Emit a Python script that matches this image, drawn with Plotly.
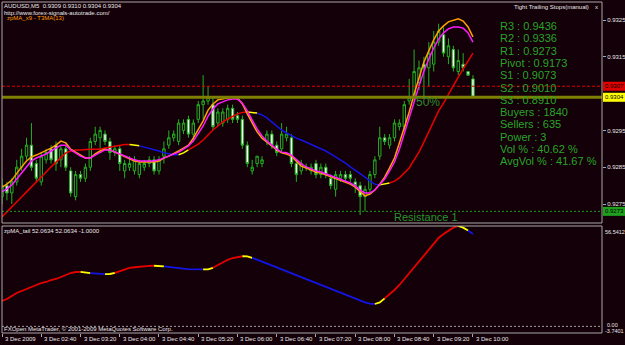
import plotly.graph_objects as go

# ---------------- data (AUDUSD M5, 3 Dec 2009, 02:00 .. 10:00) ----------------
opens = [0.9277, 0.9280, 0.9278, 0.9281, 0.9285, 0.9288, 0.9291, 0.9286, 0.9281, 0.9287,
         0.9290, 0.9291, 0.9287, 0.9290, 0.9284, 0.9277, 0.9283, 0.9282, 0.9285, 0.9292,
         0.9293, 0.9294, 0.9292, 0.9289, 0.9290, 0.9284, 0.9285, 0.9284, 0.9283, 0.9285,
         0.9286, 0.9287, 0.9284, 0.9288, 0.9291, 0.9293, 0.9292, 0.9295, 0.9298, 0.9294,
         0.9298, 0.9302, 0.9303, 0.9302, 0.9297, 0.9297, 0.9298, 0.9301, 0.9299, 0.9298,
         0.9291, 0.9284, 0.9286, 0.9286, 0.9292, 0.9294, 0.9291, 0.9290, 0.9293, 0.9293,
         0.9286, 0.9284, 0.9285, 0.9284, 0.9286, 0.9283, 0.9285, 0.9282, 0.9279, 0.9282,
         0.9283, 0.9283, 0.9281, 0.9280, 0.9277, 0.9279, 0.9283, 0.9288, 0.9293, 0.9291,
         0.9293, 0.9296, 0.9296, 0.9303, 0.9304, 0.9308, 0.9313, 0.9312, 0.9313, 0.9319,
         0.9321, 0.9315, 0.9317, 0.9311, 0.9313, 0.9311, 0.9309]
highs = [0.9282, 0.9281, 0.9282, 0.9287, 0.9290, 0.9293, 0.9297, 0.9287, 0.9289, 0.9290,
         0.9291, 0.9292, 0.9291, 0.9291, 0.9285, 0.9284, 0.9284, 0.9286, 0.9293, 0.9296,
         0.9296, 0.9295, 0.9293, 0.9291, 0.9291, 0.9287, 0.9288, 0.9288, 0.9287, 0.9287,
         0.9288, 0.9288, 0.9288, 0.9292, 0.9295, 0.9295, 0.9298, 0.9298, 0.9299, 0.9298,
         0.9303, 0.9310, 0.9307, 0.9304, 0.9301, 0.9301, 0.9302, 0.9302, 0.9300, 0.9299,
         0.9292, 0.9287, 0.9288, 0.9288, 0.9295, 0.9295, 0.9292, 0.9297, 0.9296, 0.9294,
         0.9287, 0.9287, 0.9286, 0.9286, 0.9287, 0.9286, 0.9286, 0.9283, 0.9284, 0.9284,
         0.9284, 0.9284, 0.9282, 0.9281, 0.9280, 0.9284, 0.9288, 0.9296, 0.9294, 0.9294,
         0.9298, 0.9298, 0.9303, 0.9309, 0.9317, 0.9314, 0.9315, 0.9319, 0.9322, 0.9324,
         0.9323, 0.9320, 0.9318, 0.9317, 0.9316, 0.9311, 0.9310]
lows = [0.9275, 0.9276, 0.9275, 0.9280, 0.9284, 0.9287, 0.9284, 0.9281, 0.9280, 0.9286,
        0.9286, 0.9284, 0.9285, 0.9284, 0.9277, 0.9276, 0.9281, 0.9281, 0.9284, 0.9291,
        0.9290, 0.9291, 0.9287, 0.9288, 0.9284, 0.9282, 0.9284, 0.9283, 0.9282, 0.9284,
        0.9285, 0.9283, 0.9283, 0.9286, 0.9290, 0.9292, 0.9291, 0.9294, 0.9293, 0.9292,
        0.9297, 0.9298, 0.9302, 0.9295, 0.9296, 0.9296, 0.9297, 0.9297, 0.9297, 0.9290,
        0.9285, 0.9283, 0.9285, 0.9285, 0.9291, 0.9290, 0.9288, 0.9289, 0.9292, 0.9285,
        0.9281, 0.9283, 0.9284, 0.9283, 0.9282, 0.9282, 0.9282, 0.9279, 0.9277, 0.9281,
        0.9281, 0.9281, 0.9278, 0.9272, 0.9273, 0.9278, 0.9282, 0.9287, 0.9291, 0.9290,
        0.9292, 0.9295, 0.9295, 0.9302, 0.9303, 0.9306, 0.9304, 0.9307, 0.9311, 0.9318,
        0.9315, 0.9313, 0.9311, 0.9310, 0.9311, 0.9310, 0.9304]
closes = [0.9280, 0.9278, 0.9281, 0.9285, 0.9288, 0.9291, 0.9285, 0.9282, 0.9288, 0.9289,
          0.9287, 0.9286, 0.9290, 0.9285, 0.9278, 0.9283, 0.9282, 0.9285, 0.9292, 0.9294,
          0.9295, 0.9292, 0.9289, 0.9290, 0.9286, 0.9286, 0.9286, 0.9287, 0.9286, 0.9286,
          0.9287, 0.9284, 0.9287, 0.9290, 0.9293, 0.9294, 0.9297, 0.9297, 0.9294, 0.9297,
          0.9302, 0.9303, 0.9304, 0.9296, 0.9300, 0.9300, 0.9301, 0.9298, 0.9298, 0.9291,
          0.9286, 0.9285, 0.9288, 0.9287, 0.9294, 0.9291, 0.9289, 0.9294, 0.9294, 0.9286,
          0.9283, 0.9286, 0.9285, 0.9285, 0.9283, 0.9285, 0.9283, 0.9280, 0.9283, 0.9283,
          0.9282, 0.9282, 0.9280, 0.9277, 0.9279, 0.9283, 0.9287, 0.9293, 0.9292, 0.9293,
          0.9297, 0.9297, 0.9302, 0.9304, 0.9311, 0.9312, 0.9312, 0.9316, 0.9319, 0.9322,
          0.9316, 0.9318, 0.9312, 0.9314, 0.9312, 0.9310, 0.9304]

# zpMA_x9 fast average (orange) and T3MA(13) (magenta)
zpma_fast = [0.92796, 0.92804, 0.92815, 0.92834, 0.92851, 0.92867, 0.92878, 0.92883, 0.92889, 0.92894,
             0.92902, 0.92910, 0.92921, 0.92916, 0.92899, 0.92891, 0.92883, 0.92875, 0.92875, 0.92886,
             0.92894, 0.92899, 0.92897, 0.92891, 0.92886, 0.92878, 0.92872, 0.92867, 0.92864, 0.92864,
             0.92864, 0.92864, 0.92867, 0.92875, 0.92880, 0.92886, 0.92894, 0.92902, 0.92910, 0.92929,
             0.92951, 0.92976, 0.93005, 0.93022, 0.93033, 0.93035, 0.93038, 0.93041, 0.93038, 0.93022,
             0.92995, 0.92970, 0.92946, 0.92929, 0.92918, 0.92908, 0.92897, 0.92889, 0.92886, 0.92880,
             0.92867, 0.92853, 0.92848, 0.92842, 0.92837, 0.92834, 0.92829, 0.92826, 0.92821, 0.92815,
             0.92810, 0.92804, 0.92796, 0.92783, 0.92772, 0.92777, 0.92788, 0.92804, 0.92823, 0.92848,
             0.92875, 0.92916, 0.92957, 0.93000, 0.93049, 0.93092, 0.93136, 0.93166, 0.93196, 0.93220,
             0.93234, 0.93245, 0.93250, 0.93253, 0.93247, 0.93231, 0.93204]
t3ma = [0.92783, 0.92791, 0.92802, 0.92818, 0.92837, 0.92853, 0.92867, 0.92875, 0.92880, 0.92886,
        0.92894, 0.92902, 0.92910, 0.92910, 0.92897, 0.92889, 0.92880, 0.92875, 0.92875, 0.92883,
        0.92891, 0.92897, 0.92897, 0.92891, 0.92886, 0.92880, 0.92875, 0.92870, 0.92867, 0.92867,
        0.92867, 0.92867, 0.92870, 0.92875, 0.92880, 0.92886, 0.92891, 0.92899, 0.92908, 0.92921,
        0.92940, 0.92962, 0.92989, 0.93008, 0.93022, 0.93027, 0.93033, 0.93035, 0.93035, 0.93024,
        0.93003, 0.92978, 0.92954, 0.92935, 0.92921, 0.92910, 0.92899, 0.92891, 0.92889, 0.92883,
        0.92872, 0.92859, 0.92851, 0.92845, 0.92840, 0.92837, 0.92832, 0.92829, 0.92823, 0.92818,
        0.92812, 0.92807, 0.92799, 0.92788, 0.92780, 0.92780, 0.92788, 0.92802, 0.92818, 0.92840,
        0.92864, 0.92899, 0.92940, 0.92981, 0.93027, 0.93071, 0.93111, 0.93144, 0.93174, 0.93198,
        0.93215, 0.93226, 0.93231, 0.93231, 0.93228, 0.93215, 0.93190]
# slow signal average (red rising / blue falling / yellow turn)
signal_ma = [0.92715, 0.92728, 0.92742, 0.92755, 0.92769, 0.92783, 0.92796, 0.92810, 0.92823, 0.92837,
             0.92851, 0.92864, 0.92878, 0.92889, 0.92894, 0.92897, 0.92897, 0.92899, 0.92899, 0.92899,
             0.92899, 0.92902, 0.92905, 0.92908, 0.92910, 0.92912, 0.92912, 0.92910, 0.92908, 0.92905,
             0.92902, 0.92899, 0.92894, 0.92889, 0.92886, 0.92884, 0.92884, 0.92889, 0.92897, 0.92905,
             0.92913, 0.92924, 0.92938, 0.92951, 0.92962, 0.92973, 0.92981, 0.92989, 0.92995, 0.92999,
             0.93000, 0.92999, 0.92997, 0.92992, 0.92984, 0.92973, 0.92962, 0.92951, 0.92943, 0.92935,
             0.92929, 0.92924, 0.92918, 0.92913, 0.92908, 0.92902, 0.92894, 0.92886, 0.92878, 0.92870,
             0.92861, 0.92851, 0.92842, 0.92832, 0.92823, 0.92812, 0.92804, 0.92802, 0.92804, 0.92807,
             0.92812, 0.92821, 0.92834, 0.92848, 0.92870, 0.92891, 0.92918, 0.92948, 0.92978, 0.93003,
             0.93024, 0.93049, 0.93071, 0.93095, 0.93117, 0.93139, 0.93160]
# zpMA_tail oscillator (lower window)
zpma_tail = [14.29, 15.41, 17.10, 18.79, 19.92, 21.05, 22.17, 23.30, 24.43, 24.99,
             26.12, 26.68, 27.81, 28.93, 30.06, 30.62, 30.70, 30.40, 30.00, 29.70,
             29.50, 29.40, 29.50, 30.10, 31.00, 32.00, 32.90, 33.30, 33.70, 33.95,
             34.10, 34.15, 34.10, 33.80, 33.40, 33.00, 32.70, 32.50, 32.30, 32.20,
             32.10, 32.05, 32.10, 33.00, 34.50, 36.00, 37.50, 38.50, 39.20, 39.50,
             39.40, 38.60, 37.60, 36.50, 35.40, 34.30, 33.20, 32.10, 31.00, 29.90,
             28.80, 27.70, 26.60, 25.50, 24.40, 23.30, 22.20, 21.10, 20.00, 18.90,
             17.80, 16.70, 15.60, 14.50, 13.50, 12.80, 12.60, 13.50, 15.80, 18.10,
             20.50, 23.30, 26.70, 30.10, 33.40, 36.80, 40.20, 43.60, 47.00, 49.80,
             52.00, 54.00, 55.60, 56.5412, 55.60, 54.00, 52.0634]
tail_min, tail_max = -3.7401, 56.5412

time_tick_bars = [0, 8, 16, 24, 32, 40, 48, 56, 64, 72, 80, 88, 96]
time_tick_labels = ["3 Dec 2009", "3 Dec 02:40", "3 Dec 03:20", "3 Dec 04:00", "3 Dec 04:40",
                    "3 Dec 05:20", "3 Dec 06:00", "3 Dec 06:40", "3 Dec 07:20", "3 Dec 08:00",
                    "3 Dec 08:40", "3 Dec 09:20", "3 Dec 10:00"]
price_ticks = [0.9275, 0.9285, 0.9295, 0.9305, 0.9315, 0.9325]

pivot_names = ["R3", "R2", "R1", "Pivot", "S1", "S2", "S3"]
pivot_values = [0.9436, 0.9336, 0.9273, 0.9173, 0.9073, 0.9010, 0.8910]
stat_names = ["Buyers", "Sellers", "Power", "Vol %", "AvgVol %"]
stat_values = ["1840", "635", "3", "40.62 %", "41.67 %"]

trail_stop = 0.9307
resistance_1 = 0.9273
bid = closes[-1]

# ---------------- style / layout helpers ----------------
BG = "#140008"
GREEN = "#22b022"
FONT = "Liberation Sans"
W, H = 625, 345
L, R, T, B = 2, 23, 2, 12
PW, PH = W - L - R, H - T - B
main_dom = [(PH + T - 223) / PH, 1.0]
low_dom = [0.0, (PH + T - 226) / PH]
y_main_range = [0.926984, 0.932989]
x_range = [0, 122.3]
price_per_px = (y_main_range[1] - y_main_range[0]) / ((main_dom[1] - main_dom[0]) * PH)


def px(xp):
    return (xp - L) / PW


def py(yp):
    return (PH + T - yp) / PH


def colored_runs(vals, up, down, turn):
    dirs, prev = [], 1
    for k in range(len(vals) - 1):
        d = vals[k + 1] - vals[k]
        dk = 1 if d > 0 else (-1 if d < 0 else prev)
        dirs.append(dk)
        prev = dk
    cols = []
    for k, dk in enumerate(dirs):
        changed = (k > 0 and dirs[k - 1] != dk) or (k > 1 and dirs[k - 2] != dirs[k - 1])
        cols.append(turn if changed else (up if dk > 0 else down))
    runs, start = [], 0
    for k in range(1, len(cols) + 1):
        if k == len(cols) or cols[k] != cols[start]:
            runs.append((start, k, cols[start]))
            start = k
    return runs


bars = list(range(len(closes)))
fig = go.Figure()

fig.add_trace(go.Candlestick(
    x=bars, open=opens, high=highs, low=lows, close=closes,
    increasing=dict(line=dict(color=GREEN, width=1), fillcolor=BG),
    decreasing=dict(line=dict(color=GREEN, width=1), fillcolor="#ffffff"),
    whiskerwidth=0, hoverinfo="skip", xaxis="x", yaxis="y", showlegend=False))

for s, e, c in colored_runs(signal_ma, "#e80000", "#1414e6", "#ffff00"):
    fig.add_trace(go.Scatter(x=bars[s:e + 1], y=signal_ma[s:e + 1], mode="lines",
                             line=dict(color=c, width=1.5), xaxis="x", yaxis="y",
                             showlegend=False, hoverinfo="skip"))

fig.add_trace(go.Scatter(x=bars, y=zpma_fast, mode="lines", line=dict(color="#ffa000", width=1.5),
                         xaxis="x", yaxis="y", showlegend=False, hoverinfo="skip"))
fig.add_trace(go.Scatter(x=bars, y=t3ma, mode="lines", line=dict(color="#ff1aff", width=1.5),
                         xaxis="x", yaxis="y", showlegend=False, hoverinfo="skip"))

for s, e, c in colored_runs(zpma_tail, "#e80000", "#1414e6", "#ffff00"):
    fig.add_trace(go.Scatter(x=bars[s:e + 1], y=zpma_tail[s:e + 1], mode="lines",
                             line=dict(color=c, width=1.8), xaxis="x", yaxis="y2",
                             showlegend=False, hoverinfo="skip"))

shapes = [
    dict(type="line", xref="paper", yref="y", x0=0, x1=1, y0=trail_stop, y1=trail_stop,
         line=dict(color="#e00000", width=1, dash="3px,2px")),
    dict(type="line", xref="paper", yref="y", x0=0, x1=1, y0=bid, y1=bid,
         line=dict(color="#7d8000", width=3)),
    dict(type="line", xref="paper", yref="y", x0=0, x1=1, y0=resistance_1, y1=resistance_1,
         line=dict(color="#1e9a1e", width=1, dash="2px,2px")),
    dict(type="line", xref="paper", yref="y2", x0=0, x1=1, y0=0, y1=0,
         line=dict(color="#a0a0a0", width=1, dash="2px,2px")),
    dict(type="rect", xref="paper", yref="paper", x0=0, x1=1, y0=main_dom[0], y1=main_dom[1],
         line=dict(color="#a8a8a8", width=1)),
    dict(type="rect", xref="paper", yref="paper", x0=0, x1=1, y0=low_dom[0], y1=low_dom[1],
         line=dict(color="#a8a8a8", width=1)),
]

ann = []


def text(x, y, s, size=6, color="#e8e8e8", xanchor="left", yanchor="middle", **kw):
    ann.append(dict(x=x, y=y, xref="paper", yref="paper", text=s, showarrow=False,
                    xanchor=xanchor, yanchor=yanchor, borderpad=0,
                    font=dict(family=FONT, size=size, color=color), **kw))


# top-left info
text(px(3), py(6), f"AUDUSD,M5  {opens[-1]:.4f} {highs[-1]:.4f} {lows[-1]:.4f} {closes[-1]:.4f}")
text(px(3), py(12.5), "http://www.forex-signals-autotrade.com/")
text(px(6), py(18.5), "zpMA_x9 - T3MA(13)", color="#ff9a00")
text(px(590), py(7), "Tight Trailing Stops(manual)", xanchor="right")
text(px(594), py(7), "x")
text(px(3), py(231), f"zpMA_tail {zpma_tail[-1]:.4f} {zpma_tail[-1]:.4f} -1.0000")
text(px(3), py(329), "FXOpen MetaTrader, © 2001-2009 MetaQuotes Software Corp.")

# pivot / stats block
lines = [f"{n} : {v:.4f}" for n, v in zip(pivot_names, pivot_values)] + \
        [f"{n} : {v}" for n, v in zip(stat_names, stat_values)]
for k, s in enumerate(lines):
    text(px(499), py(26 + 12.3 * k), s, size=11, color="#28a428")

text(px(415), py(102), "50%", size=12, color="#2e8a2e")
text(px(393), py(216.5), "Resistance 1", size=11, color="#24962a")

# right-side price boxes (drawn as rectangles + labels)
for val, bg in [(trail_stop, "#e00000"), (bid, "#ffff00"), (resistance_1, "#1ea01e")]:
    shapes.append(dict(type="rect", xref="paper", yref="y", layer="above",
                       x0=1.0 + 1 / PW, x1=1.0 + 23 / PW,
                       y0=val - 4.5 * price_per_px, y1=val + 4.5 * price_per_px,
                       fillcolor=bg, line=dict(width=0)))
    ann.append(dict(x=1.0 + 2 / PW, y=val, xref="paper", yref="y", text=f"{val:.4f}", showarrow=False,
                    xanchor="left", yanchor="middle", borderpad=0,
                    font=dict(family=FONT, size=6, color="#000000")))

# lower window scale labels
ann.append(dict(x=1.0, y=tail_max, xref="paper", yref="y2", text=f"{tail_max:.4f}", showarrow=False,
                xanchor="left", yanchor="top", xshift=1, yshift=-1,
                font=dict(family=FONT, size=5.5, color="#e8e8e8")))
ann.append(dict(x=1.0, y=0, xref="paper", yref="y2", text="0.00", showarrow=False,
                xanchor="left", yanchor="middle", xshift=3, yshift=1,
                font=dict(family=FONT, size=5.5, color="#e8e8e8")))
ann.append(dict(x=1.0, y=tail_min, xref="paper", yref="y2", text=f"{tail_min:.4f}", showarrow=False,
                xanchor="left", yanchor="middle", xshift=1, yshift=2,
                font=dict(family=FONT, size=5.5, color="#e8e8e8")))

# time labels, left-aligned at their tick like MT4
for b, lab in zip(time_tick_bars, time_tick_labels):
    ann.append(dict(x=b, y=0, xref="x", yref="paper", text=lab, showarrow=False,
                    xanchor="left", yanchor="top", xshift=1, yshift=-1,
                    font=dict(family=FONT, size=6, color="#e8e8e8")))

fig.update_layout(
    width=W, height=H, margin=dict(l=L, r=R, t=T, b=B, autoexpand=False),
    paper_bgcolor=BG, plot_bgcolor=BG, showlegend=False,
    font=dict(family=FONT, size=6, color="#e8e8e8"),
    xaxis=dict(domain=[0, 1], anchor="y2", range=x_range, rangeslider=dict(visible=False),
               showgrid=False, zeroline=False, showline=False, showticklabels=False,
               tickvals=time_tick_bars, ticks="outside", ticklen=3, tickcolor="#a8a8a8"),
    yaxis=dict(domain=main_dom, anchor="x", side="right", range=y_main_range,
               showgrid=False, zeroline=False, showline=False,
               tickvals=price_ticks,
               ticktext=["" if abs(v - bid) < 0.00015 else f"{v:.4f}" for v in price_ticks],
               ticks="outside", ticklen=3, tickcolor="#a8a8a8",
               tickfont=dict(family=FONT, size=6, color="#e8e8e8"), automargin=False),
    yaxis2=dict(domain=low_dom, anchor="x", side="right", range=[tail_min, tail_max],
                showgrid=False, zeroline=False, showline=False, showticklabels=False),
    shapes=shapes, annotations=ann,
)

fig.write_html("out.html")
